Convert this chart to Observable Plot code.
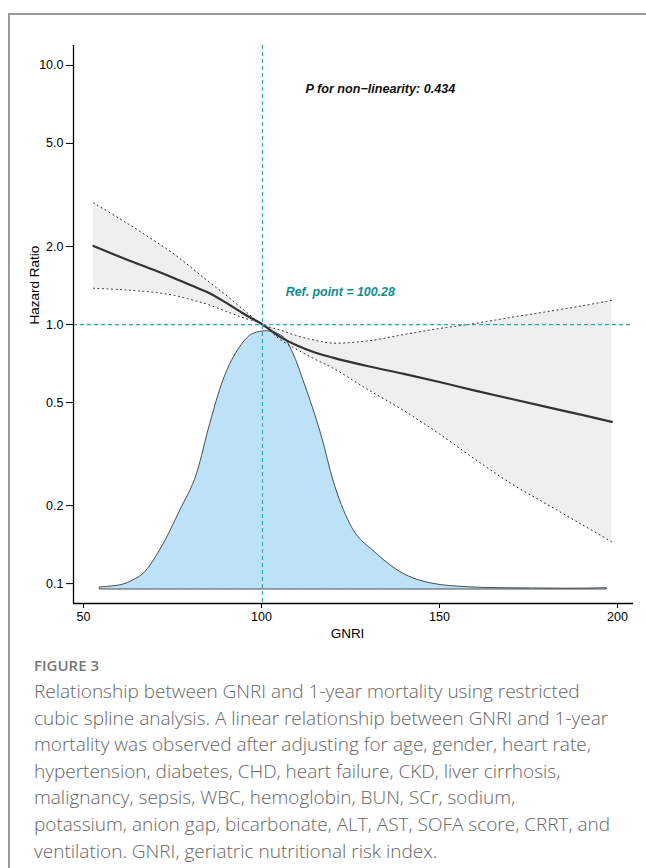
<!DOCTYPE html>
<html><head><meta charset="utf-8">
<script src="https://cdn.jsdelivr.net/npm/d3@7"></script>
<script src="https://cdn.jsdelivr.net/npm/@observablehq/plot@0.6"></script>
<style>
html,body{margin:0;padding:0;background:#fff;}
#page{position:relative;width:646px;height:868px;overflow:hidden;background:#fff;}
#frame{position:absolute;left:8px;top:13px;width:700px;height:900px;border-left:2px solid #9a9a9a;border-top:2px solid #9a9a9a;}
#chart{position:absolute;left:0;top:0;width:646px;height:660px;}
#chart svg{position:absolute;left:0;top:0;}
#chart svg g[aria-label$="tick label"]{font-size:12.5px;}
#caption{position:absolute;left:34px;top:652px;white-space:nowrap;font-family:"Open Sans",sans-serif;}
#caption .fig{font-size:15px;font-weight:600;color:#777;line-height:26px;}
#caption .txt{font-size:19px;font-weight:300;color:#666;line-height:26.6px;}
</style></head>
<body><div id="page"><div id="frame"></div><div id="chart"></div>
<div id="caption"><div class="fig">FIGURE 3</div><div class="txt">
Relationship between GNRI and 1-year mortality using restricted<br>
cubic spline analysis. A linear relationship between GNRI and 1-year<br>
mortality was observed after adjusting for age, gender, heart rate,<br>
hypertension, diabetes, CHD, heart failure, CKD, liver cirrhosis,<br>
malignancy, sepsis, WBC, hemoglobin, BUN, SCr, sodium,<br>
potassium, anion gap, bicarbonate, ALT, AST, SOFA score, CRRT, and<br>
ventilation. GNRI, geriatric nutritional risk index.</div></div>
</div>
<script>
// Spline estimates (hazard ratio vs GNRI)
const gnri  = [52.8, 60, 65, 70, 75, 80, 85, 90, 95, 100.28, 105, 110, 115, 120, 130, 140, 150, 160, 170, 180, 190, 198.4];
const hr    = [2.01, 1.83, 1.72, 1.62, 1.52, 1.42, 1.33, 1.215, 1.10, 1.0, 0.90, 0.83, 0.78, 0.745, 0.69, 0.645, 0.60, 0.556, 0.517, 0.481, 0.448, 0.421];
const upper = [2.95, 2.57, 2.33, 2.10, 1.89, 1.67, 1.47, 1.30, 1.14, 1.0, 0.955, 0.905, 0.87, 0.848, 0.865, 0.915, 0.965, 1.01, 1.065, 1.12, 1.18, 1.24];
const lower = [1.38, 1.365, 1.35, 1.33, 1.30, 1.25, 1.195, 1.125, 1.06, 1.0, 0.88, 0.80, 0.735, 0.68, 0.56, 0.465, 0.378, 0.302, 0.244, 0.203, 0.169, 0.145];
// GNRI distribution (relative density)
const densX = [54.7, 58, 61.2, 64, 66.9, 71.5, 77.2, 81.9, 85.6, 89.3, 94, 97.8, 101.5, 106.2, 109, 111.8, 117.2, 120.2, 124.9, 132.4, 140.8, 148.3, 157.7, 167, 176, 186, 197];
const densY = [0.008, 0.012, 0.019, 0.035, 0.061, 0.151, 0.306, 0.448, 0.641, 0.809, 0.938, 0.99, 1.0, 0.977, 0.912, 0.809, 0.58, 0.422, 0.254, 0.138, 0.054, 0.022, 0.009, 0.005, 0.004, 0.003, 0.005];
// axes
const xTicks = [50, 100, 150, 200];
const yTicks = [0.1, 0.2, 0.5, 1, 2, 5, 10];
const refPoint = 100.28;
const pText = "P for non\u2212linearity: 0.434";
const refText = "Ref. point = 100.28";

const spline = gnri.map((x, i) => ({x, hr: hr[i], lo: lower[i], hi: upper[i]}));
const dens = densX.map((x, i) => ({x, d: densY[i]}));

const xDomain = [47.2, 204.5];
const yDomain = [0.0838, 11.94];
const base = {
  width: 646, height: 660,
  marginLeft: 73, marginRight: 13, marginTop: 45, marginBottom: 57,
  style: {background: "transparent", fontFamily: "'Liberation Sans', Arial, sans-serif", fontSize: "12px", color: "#000"}
};
const teal = "#3aa7a7";
const curve = "catmull-rom";

// Layer 1: confidence band
const p1 = Plot.plot({...base,
  x: {domain: xDomain, axis: null},
  y: {type: "log", domain: yDomain, axis: null},
  marks: [
    Plot.areaY(spline, {x: "x", y1: "lo", y2: "hi", fill: "#efefef", curve})
  ]
});
// Layer 2: density on its own linear scale
const p2 = Plot.plot({...base,
  x: {domain: xDomain, axis: null},
  y: {domain: [-0.0542, 2.106], axis: null},
  marks: [
    Plot.areaY(dens, {x: "x", y1: 0, y2: "d", fill: "#bde2f8", stroke: "#3a3a3a", strokeWidth: 0.9, curve: "monotone-x"})
  ]
});
// Layer 3: lines, axes, annotations
const p3 = Plot.plot({...base,
  x: {domain: xDomain},
  y: {type: "log", domain: yDomain},
  marks: [
    Plot.line(spline, {x: "x", y: "hi", stroke: "#222", strokeWidth: 1, strokeDasharray: "1,3.5", curve}),
    Plot.line(spline, {x: "x", y: "lo", stroke: "#222", strokeWidth: 1, strokeDasharray: "1,3.5", curve}),
    Plot.line(spline, {x: "x", y: "hr", stroke: "#333", strokeWidth: 2.2, curve}),
    Plot.ruleY([1], {stroke: teal, strokeWidth: 1.2, strokeDasharray: "4,3"}),
    Plot.ruleX([refPoint], {stroke: teal, strokeWidth: 1.2, strokeDasharray: "4,3"}),
    Plot.ruleX([xDomain[0]], {stroke: "#000", strokeWidth: 1.3}),
    Plot.ruleY([yDomain[0]], {stroke: "#000", strokeWidth: 1.3}),
    Plot.axisX({ticks: xTicks, tickSize: 5, tickPadding: 4, fontSize: 12.5, label: null}),
    Plot.axisY({ticks: yTicks, tickFormat: d3.format(".1f"), tickSize: 7, tickPadding: 3, fontSize: 12.5, label: null}),
    Plot.text(["GNRI"], {frameAnchor: "bottom", dy: 34, dx: -6, fontSize: 13.5}),
    Plot.text(["Hazard Ratio"], {frameAnchor: "left", rotate: -90, dx: -39, fontSize: 13.5}),
    Plot.text([pText], {x: 112.4, y: 8.15, textAnchor: "start", fontWeight: "bold", fontStyle: "italic", fontSize: 12.6, fill: "#111"}),
    Plot.text([refText], {x: 106.8, y: 1.332, textAnchor: "start", fontWeight: "bold", fontStyle: "italic", fontSize: 12.4, fill: "#0f8c8c"})
  ]
});
const chart = document.getElementById("chart");
chart.append(p1, p2, p3);
</script>
</body></html>
